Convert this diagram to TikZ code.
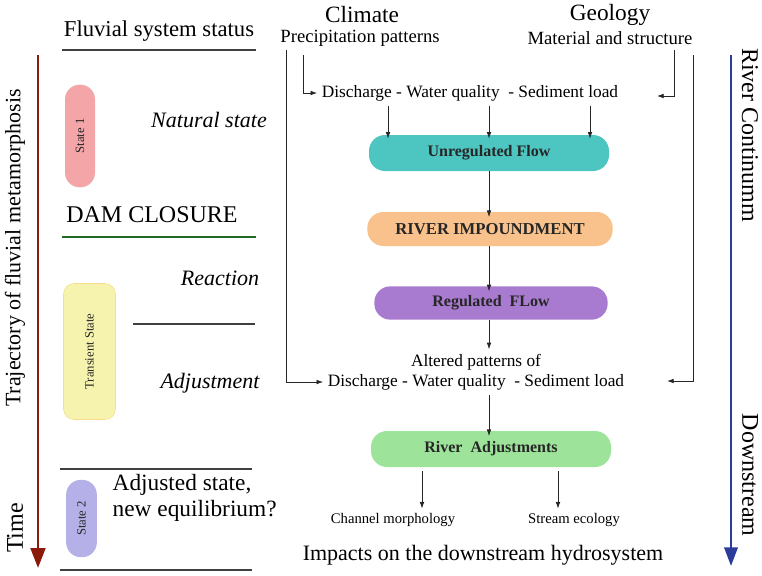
\documentclass[tikz,border=0pt]{standalone}
\usepackage{fontspec}
\setmainfont{Liberation Serif}
\usetikzlibrary{positioning, arrows.meta}

\definecolor{tealflow}{RGB}{77,197,192}
\definecolor{orangeflow}{RGB}{249,194,140}
\definecolor{purpleflow}{RGB}{169,123,208}
\definecolor{greenflow}{RGB}{157,227,154}
\definecolor{pinkstate}{RGB}{244,165,168}
\definecolor{yellowstate}{RGB}{246,243,174}
\definecolor{lavenderstate}{RGB}{181,176,232}
\definecolor{timered}{RGB}{139,26,10}
\definecolor{riverblue}{RGB}{43,60,156}
\definecolor{damgreen}{RGB}{31,107,31}

\begin{document}
\begin{tikzpicture}[x=0.75pt, y=-0.75pt]

        % Fix the frame (pixel grid, y going down)
        \useasboundingbox (0,0) rectangle (762,575);

        \tikzset{
            big/.style={font=\fontsize{16.5}{19.5}\selectfont},
            bigger/.style={font=\fontsize{18}{21}\selectfont},
            bigit/.style={font=\fontsize{16.5}{19}\selectfont\itshape},
            mid/.style={font=\fontsize{13}{15}\selectfont},
            small/.style={font=\fontsize{10.5}{12}\selectfont},
            flowbox/.style={rounded corners=12pt, minimum width=180pt, minimum height=27pt,
                text=black!85, font=\fontsize{12}{14}\selectfont\bfseries},
            statepill/.style={rotate=90, text=black!85, font=\fontsize{9.5}{11}\selectfont},
            flow/.style={-{Latex[length=5pt,width=3.5pt]}, line width=0.6pt, black!85},
            rule/.style={line width=1pt, black!75}
        }

        % 1. Headers
        \node[font=\fontsize{17}{20}\selectfont] (status) at (159,31) {Fluvial system status};
        \coordinate (statusL) at (62,50);
        \coordinate (statusR) at (256,50);
        \draw[rule] (statusL) -- (statusR);

        \node[font=\fontsize{17.5}{19}\selectfont] (climate) at (362,15) {Climate};
        \node[font=\fontsize{14}{16}\selectfont] (precip) at (360,38) {Precipitation patterns};
        \node[font=\fontsize{17.5}{19}\selectfont] (geology) at (610,15) {Geology};
        \node[font=\fontsize{14}{16}\selectfont] (material) at (610,38) {Material and structure};

        % 2. Time axis (left) and river axis (right)
        \coordinate (timeTop) at (38,55);
        \coordinate (timeEnd) at (38,568);
        \draw[timered, line width=2.2pt, -{Triangle[length=15pt,width=11pt]}] (timeTop) -- (timeEnd);
        \node[big, rotate=90] (trajectory) at (15,248) {Trajectory of fluvial metamorphosis};
        \node[bigger, rotate=90] (time) at (15,528) {Time};

        \coordinate (riverTop) at (731,55);
        \coordinate (riverEnd) at (731,566);
        \draw[riverblue, line width=2pt, -{Triangle[length=14pt,width=10pt]}] (riverTop) -- (riverEnd);
        \node[bigger, rotate=-90] (continuum) at (750,135) {River Continumm};
        \node[bigger, rotate=-90] (downstream) at (750,475) {Downstream};

        % 3. States of the fluvial system
        \node[statepill, fill=pinkstate, minimum width=77pt, minimum height=22.5pt, rounded corners=11pt] (state1) at (80,136) {State 1};
        \node[bigit] (natural) at (209,120) {Natural state};

        \node[bigger] (dam) at (152,215) {DAM CLOSURE};
        \coordinate (damL) at (62,237);
        \coordinate (damR) at (256,237);
        \draw[damgreen, line width=2.2pt] (damL) -- (damR);

        \node[bigit] (reaction) at (220,278) {Reaction};
        \coordinate (reactL) at (133,324);
        \coordinate (reactR) at (255,324);
        \draw[rule] (reactL) -- (reactR);

        \node[statepill, fill=yellowstate, draw=yellowstate!80!orange, minimum width=102pt, minimum height=39pt, rounded corners=8pt] (transient) at (89.5,351.5) {Transient State};
        \node[bigit] (adjust) at (210,383) {Adjustment};

        \coordinate (eqL) at (60,469);
        \coordinate (eqR) at (252,469);
        \draw[rule] (eqL) -- (eqR);

        \node[statepill, fill=lavenderstate, minimum width=58pt, minimum height=23pt, rounded corners=11pt] (state2) at (81.5,518.5) {State 2};
        \node[font=\fontsize{17.5}{19}\selectfont, align=left, anchor=west] (adjusted) at (108,498) {Adjusted state,\\new equilibrium?};

        \coordinate (endL) at (60,570);
        \coordinate (endR) at (252,570);
        \draw[rule] (endL) -- (endR);

        % 4. Flow chain
        \node[mid] (discharge) at (470,93) {Discharge - Water quality \ - Sediment load};
        \node[flowbox, fill=tealflow] (unreg) at (489,153) {Unregulated Flow};
        \node[flowbox, fill=orangeflow, minimum width=184pt, minimum height=25.5pt, font=\fontsize{12.5}{14}\selectfont\bfseries] (impound) at (490,229) {RIVER IMPOUNDMENT};
        \node[flowbox, fill=purpleflow, minimum width=175pt, minimum height=25pt] (reg) at (491,303) {Regulated \ FLow};
        \node[mid] (altered1) at (476,362) {Altered patterns of};
        \node[mid] (altered2) at (476,382) {Discharge - Water quality \ - Sediment load};
        \node[flowbox, fill=greenflow, minimum width=180pt, minimum height=27pt] (adjustments) at (491,449) {River \ Adjustments};
        \node[font=\fontsize{11}{13}\selectfont] (channel) at (393,520) {Channel morphology};
        \node[font=\fontsize{11}{13}\selectfont] (ecology) at (574,520) {Stream ecology};
        \node[big] (impacts) at (483,555) {Impacts on the downstream hydrosystem};

        % arrows from the discharge line into the unregulated flow
        \foreach \xx [count=\i] in {388,489,590} {
            \coordinate (d\i) at (\xx,0);
            \draw[flow] (discharge.south -| d\i) -- ([yshift=-3pt]unreg.north -| d\i);
        }
        \draw[flow] (unreg.south) -- ([yshift=-4pt]impound.north -| unreg.south);
        \draw[flow] (impound.south -| unreg.south) -- ([yshift=-4pt]reg.north -| unreg.south);
        \draw[flow] (reg.south -| unreg.south) -- (altered1.north -| unreg.south);
        \coordinate (a1) at (489,0);
        \draw[flow] (altered2.south -| a1) -- ([yshift=-4pt]adjustments.north -| a1);
        \coordinate (c1) at (422,0);
        \coordinate (c2) at (558,0);
        \draw[flow] ([yshift=-3pt]adjustments.south -| c1) -- (channel.north -| c1);
        \draw[flow] ([yshift=-3pt]adjustments.south -| c2) -- (ecology.north -| c2);

        % 5. Side feeds from climate and geology
        \coordinate (climOut) at (286,50);
        \coordinate (climIn) at (303,55);
        \coordinate (geoIn) at (674,50);
        \coordinate (geoOut) at (693,55);
        \coordinate (geoInEnd) at (657,96);
        \coordinate (geoOutEnd) at (667,381);
        \draw[flow] (climIn) |- (discharge.west);
        \draw[flow] (climOut) |- (altered2.west);
        \draw[flow] (geoIn) |- (geoInEnd);
        \draw[flow] (geoOut) |- (geoOutEnd);

\end{tikzpicture}
\end{document}
